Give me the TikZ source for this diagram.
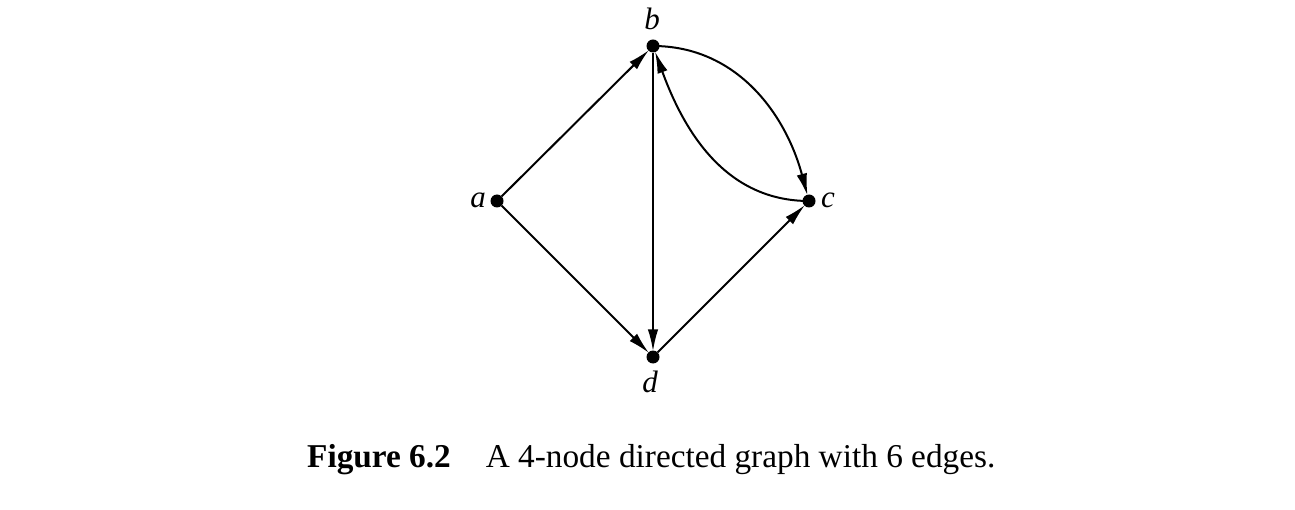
\documentclass[tikz,border=0pt]{standalone}
\usepackage{fontspec}
\setmainfont{Liberation Serif}
\usetikzlibrary{arrows.meta}
\begin{document}
\begin{tikzpicture}[x=1pt,y=-1pt,
  vtx/.style={circle,fill=black,inner sep=0pt,minimum size=13pt},
  lab/.style={font=\fontsize{31}{36}\selectfont\itshape,inner sep=0pt},
  edge/.style={line width=2pt,-{Latex[length=22pt,width=10.5pt]},shorten >=-1pt}]
\useasboundingbox (0,0) rectangle (1295,510);
\node[vtx] (a) at (497,201) {};
\node[vtx] (b) at (653,46) {};
\node[vtx] (c) at (809,201) {};
\node[vtx] (d) at (653,357) {};
\node[lab] (la) at (478,200) {a};
\node[lab] (lb) at (652,19) {b};
\node[lab] (lc) at (828,200) {c};
\node[lab] (ld) at (650,382) {d};
\draw[edge] (a) -- (b);
\draw[edge] (a) -- (d);
\draw[edge] (b) -- (d);
\draw[edge] (d) -- (c);
\draw[edge] (b.center) to[out=0,in=105] (c);
\draw[edge] (c.center) to[out=180,in=-70] (b);
\node[font=\fontsize{33.3}{40}\selectfont,anchor=base west,inner sep=0pt] (cap) at (307,467) {\textbf{Figure 6.2}\hspace{1.05em}A 4-node directed graph with 6 edges.};
\end{tikzpicture}
\end{document}
